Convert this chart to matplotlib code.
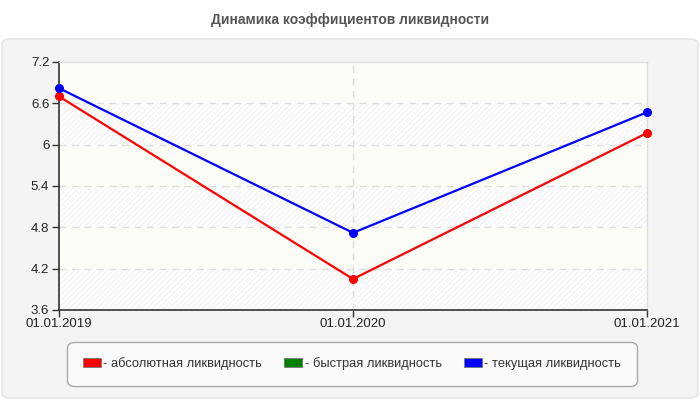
import matplotlib
matplotlib.use("Agg")
import matplotlib.pyplot as plt
from matplotlib.patches import FancyBboxPatch, Patch, Rectangle

plt.rcParams['font.family'] = ['Liberation Sans', 'DejaVu Sans']
plt.rcParams['hatch.linewidth'] = 0.6

title = "Динамика коэффициентов ликвидности"
dates = ["01.01.2019", "01.01.2020", "01.01.2021"]
absolute = [6.70, 4.05, 6.17]
quick = []  # no values shown
current = [6.82, 4.72, 6.47]
series_names = ["- абсолютная ликвидность", "- быстрая ликвидность", "- текущая ликвидность"]
series_colors = ["#ff0000", "#008000", "#0000ff"]
y_ticks = [3.6, 4.2, 4.8, 5.4, 6.0, 6.6, 7.2]
y_labels = ["3.6", "4.2", "4.8", "5.4", "6", "6.6", "7.2"]

fig = plt.figure(figsize=(7, 4), dpi=100)
fig.patch.set_facecolor("white")

# gray panel
panel = FancyBboxPatch((2/700, 2/400), 696/700, 359/400,
                       boxstyle="round,pad=0,rounding_size=0.012",
                       transform=fig.transFigure, facecolor="#f4f4f4",
                       edgecolor="#e2e2e2", linewidth=1.0, zorder=-5)
fig.patches.append(panel)

fig.text(0.5, 1 - 20/400, title, ha="center", va="center",
         fontsize=10, fontweight="bold", color="#555555")

ax = fig.add_axes([59/700, 1 - 310/400, (647-59)/700, (310-62)/400])
ax.set_facecolor("white")
x = list(range(len(dates)))
ax.set_xlim(0, len(dates) - 1)
ax.set_ylim(y_ticks[0], y_ticks[-1])

# alternating background bands
for i in range(len(y_ticks) - 1):
    lo, hi = y_ticks[i], y_ticks[i + 1]
    if i % 2 == 0:
        r = Rectangle((0, lo), len(dates) - 1, hi - lo, facecolor="white",
                      edgecolor="#ededed", hatch="//////", linewidth=0, zorder=0)
    else:
        r = Rectangle((0, lo), len(dates) - 1, hi - lo, facecolor="#fdfdf8",
                      edgecolor="none", linewidth=0, zorder=0)
    ax.add_patch(r)

for yv in y_ticks[1:-1]:
    ax.axhline(yv, color="#dddddd", linestyle=(0, (5, 4)), linewidth=1.0, zorder=1)
ax.axvline(1, color="#dddddd", linestyle=(0, (5, 4)), linewidth=1.0, zorder=1)

ax.plot(x, absolute, color=series_colors[0], linewidth=1.6, marker="o",
        markersize=5.5, zorder=3, clip_on=False)
if quick:
    ax.plot(x, quick, color=series_colors[1], linewidth=1.6, marker="o",
            markersize=5.5, zorder=3, clip_on=False)
ax.plot(x, current, color=series_colors[2], linewidth=1.6, marker="o",
        markersize=5.5, zorder=3, clip_on=False)

ax.set_xticks(x)
ax.set_xticklabels(dates)
ax.set_yticks(y_ticks)
ax.set_yticklabels(y_labels)
ax.tick_params(axis="both", direction="out", length=5, width=1, color="#333333",
               labelsize=9.5, labelcolor="#222222", pad=2)
ax.tick_params(axis="x", pad=1)
for s in ["left", "bottom"]:
    ax.spines[s].set_color("#333333")
    ax.spines[s].set_linewidth(1.2)
for s in ["top", "right"]:
    ax.spines[s].set_color("#dddddd")
    ax.spines[s].set_linewidth(1.0)

handles = [Patch(facecolor=c, edgecolor="#777777", linewidth=0.6) for c in series_colors]
leg = fig.legend(handles, series_names, loc="center",
                 bbox_to_anchor=(352/700, 1 - 364/400), ncol=3,
                 fontsize=9.3, frameon=True, fancybox=True,
                 handlelength=1.4, handleheight=0.7, handletextpad=0.2,
                 columnspacing=1.7, borderpad=0.9, borderaxespad=0,
                 labelcolor="#333333")
frame = leg.get_frame()
frame.set_facecolor("#fafafa")
frame.set_edgecolor("#aaaaaa")
frame.set_alpha(1)
frame.set_linewidth(1.0)
frame.set_boxstyle("round,pad=0.3,rounding_size=0.5")

fig.savefig("out.png", dpi=100)
